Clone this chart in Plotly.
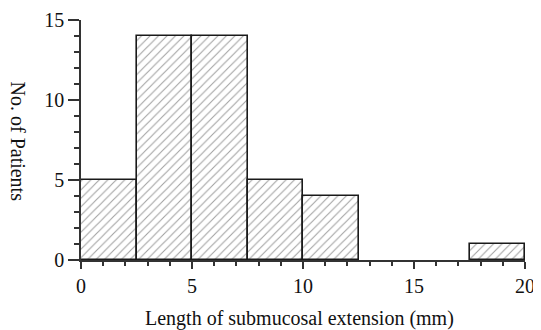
import plotly.graph_objects as go

bin_starts = [0, 2.5, 5, 7.5, 10, 12.5, 15, 17.5]
bin_width = 2.5
counts = [5, 14, 14, 5, 4, 0, 0, 1]
x_ticks = [0, 5, 10, 15, 20]
y_ticks = [0, 5, 10, 15]

centers = [s + bin_width / 2 for s in bin_starts]
outline_w = [1.6 if c > 0 else 0 for c in counts]

fig = go.Figure()
fig.add_trace(go.Bar(
    x=centers, y=counts, width=[bin_width] * len(counts),
    marker=dict(
        color="white",
        line=dict(color="#1a1a1a", width=outline_w),
        pattern=dict(shape="/", fgcolor="#444", bgcolor="white", size=6, solidity=0.18),
    ),
    showlegend=False,
))

font = dict(family="Liberation Serif", size=20, color="#111")

# page has an 8px body margin; the figure is sized to fit the 541x330 window
fig.update_layout(
    width=533, height=322,
    margin=dict(l=73, r=16, t=12, b=70),
    paper_bgcolor="white", plot_bgcolor="white",
    font=font,
    bargap=0,
    xaxis=dict(
        range=[0, 20], tickvals=x_ticks, ticks="outside", ticklen=7, tickwidth=1.5,
        tickcolor="#333", showline=True, linecolor="#333", linewidth=1.5,
        showgrid=False, zeroline=False, automargin=False,
        tickfont=font,
        minor=dict(dtick=1, ticks="outside", ticklen=4, tickwidth=1.5, tickcolor="#333", showgrid=False),
    ),
    yaxis=dict(
        range=[0, 15], tickvals=y_ticks, ticks="outside", ticklen=11, tickwidth=1.5,
        tickcolor="#333", showline=True, linecolor="#333", linewidth=1.5,
        showgrid=False, zeroline=False, automargin=False,
        tickfont=font,
        minor=dict(dtick=1, ticks="outside", ticklen=5, tickwidth=1.5, tickcolor="#333", showgrid=False),
    ),
    annotations=[
        dict(
            text="No. of Patients", textangle=90, xref="paper", yref="paper",
            x=-0.141, y=0.492, xanchor="center", yanchor="middle", showarrow=False, font=font,
        ),
        dict(
            text="Length of submucosal extension (mm)", xref="paper", yref="paper",
            x=0.493, y=-0.242, xanchor="center", yanchor="middle", showarrow=False, font=font,
        ),
    ],
)

fig.write_html("out.html")
